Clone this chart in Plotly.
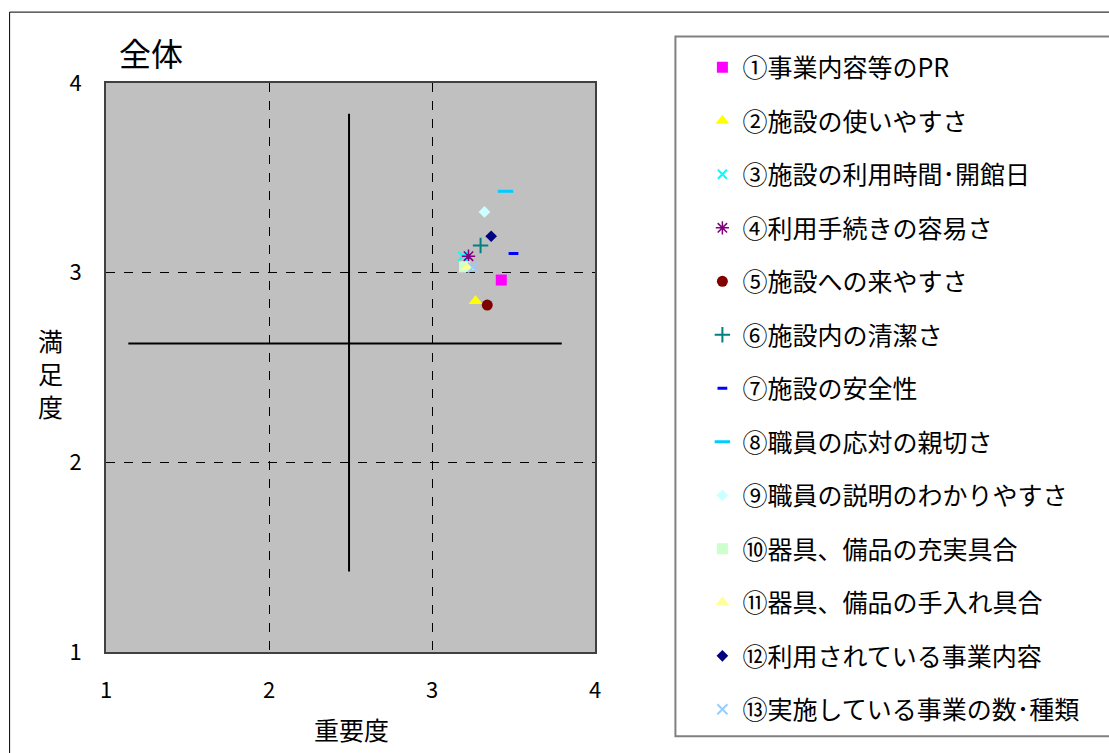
import plotly.graph_objects as go

# 項目ごとの重要度(x)・満足度(y)
labels = [
    "①事業内容等のPR",
    "②施設の使いやすさ",
    "③施設の利用時間･開館日",
    "④利用手続きの容易さ",
    "⑤施設への来やすさ",
    "⑥施設内の清潔さ",
    "⑦施設の安全性",
    "⑧職員の応対の親切さ",
    "⑨職員の説明のわかりやすさ",
    "⑩器具、備品の充実具合",
    "⑪器具、備品の手入れ具合",
    "⑫利用されている事業内容",
    "⑬実施している事業の数･種類",
]
importance = [3.425, 3.267, 3.189, 3.224, 3.339, 3.298, 3.500, 3.451, 3.322, 3.200, 3.220, 3.363, 3.251]
satisfaction = [2.961, 2.850, 3.087, 3.087, 2.829, 3.143, 3.101, 3.429, 3.320, 3.031, 3.031, 3.192, 3.028]

# 十字線(平均の目安)
cross_center_x = 2.491
cross_center_y = 2.627
cross_x_range = [1.137, 3.796]
cross_y_range = [1.425, 3.838]

axis_ticks = [1, 2, 3, 4]

# マーカー形状と色
symbols = ["square", "triangle-up", "x-thin", "asterisk", "circle", "cross-thin",
           "line-ew", "line-ew", "diamond", "square", "triangle-up", "diamond", "x-thin"]
colors = ["#FF00FF", "#FFFF00", "#00FFFF", "#800080", "#800000", "#008080",
          "#0000FF", "#00CCFF", "#CCFFFF", "#CCFFCC", "#FFFF99", "#000080", "#99CCFF"]
sizes = [11, 12, 9, 11, 11, 11, 7, 11, 9, 11, 12, 9, 10]
open_symbols = {"x-thin", "asterisk", "cross-thin", "line-ew"}

W, H = 1109, 753
L, R, T, B = 106, 595.5, 82.5, 652.5
FONT = "Noto Sans CJK JP"


def px_x(p):
    return (p - L) / (R - L)


def px_y(p):
    return (B - p) / (B - T)


fig = go.Figure()

# 十字線
fig.add_trace(go.Scatter(x=[cross_center_x, cross_center_x], y=cross_y_range, mode="lines",
                         line=dict(color="black", width=2), showlegend=False, hoverinfo="skip"))
fig.add_trace(go.Scatter(x=cross_x_range, y=[cross_center_y, cross_center_y], mode="lines",
                         line=dict(color="black", width=2), showlegend=False, hoverinfo="skip"))

for i, name in enumerate(labels):
    sym = symbols[i]
    if sym in open_symbols:
        lw = 3 if sym == "line-ew" else (1.5 if sym == "asterisk" else 2)
        marker = dict(symbol=sym, size=sizes[i], color=colors[i],
                      line=dict(color=colors[i], width=lw))
    else:
        marker = dict(symbol=sym, size=sizes[i], color=colors[i], line=dict(width=0))
    fig.add_trace(go.Scatter(x=[importance[i]], y=[satisfaction[i]], mode="markers",
                             name=name, marker=marker, legendgroup=f"g{i}"))

y_title_chars = ["満", "足", "度"]
y_title_pos = [340, 373, 406]

annotations = [
    dict(text="全体", xref="paper", yref="paper", x=px_x(117), y=px_y(51),
         xanchor="left", yanchor="middle", showarrow=False,
         font=dict(size=32, family=FONT)),
    dict(text="重要度", xref="paper", yref="paper", x=px_x(352), y=px_y(730),
         xanchor="center", yanchor="middle", showarrow=False,
         font=dict(size=25, family=FONT)),
]
for ch, py in zip(y_title_chars, y_title_pos):
    annotations.append(dict(text=ch, xref="paper", yref="paper", x=px_x(50), y=px_y(py),
                            xanchor="center", yanchor="middle", showarrow=False,
                            font=dict(size=25, family=FONT)))

fig.update_layout(
    width=W, height=H,
    margin=dict(l=L, r=W - R, t=T, b=H - B, pad=0),
    paper_bgcolor="white",
    plot_bgcolor="#C0C0C0",
    font=dict(family=FONT, color="black"),
    showlegend=True,
    legend=dict(
        x=px_x(703), y=px_y(44), xanchor="left", yanchor="top",
        bgcolor="rgba(0,0,0,0)", borderwidth=0,
        font=dict(family=FONT, size=25, color="black"),
        tracegroupgap=18, traceorder="grouped", maxheight=720,
    ),
    xaxis=dict(range=[1, 4], tickvals=axis_ticks, ticktext=[str(v) for v in axis_ticks],
               showgrid=True, gridcolor="black", griddash="dash", gridwidth=1,
               zeroline=False, showline=True, linecolor="#404040", linewidth=2, mirror=True,
               ticks="", tickfont=dict(size=22, family=FONT), ticklabelstandoff=18),
    yaxis=dict(range=[1, 4], tickvals=axis_ticks, ticktext=[str(v) for v in axis_ticks],
               showgrid=True, gridcolor="black", griddash="dash", gridwidth=1,
               zeroline=False, showline=True, linecolor="#404040", linewidth=2, mirror=True,
               ticks="", tickfont=dict(size=22, family=FONT), ticklabelstandoff=18),
    shapes=[
        # 外枠
        dict(type="rect", xref="paper", yref="paper",
             x0=px_x(9.5), x1=px_x(1120), y0=px_y(770), y1=px_y(11.5),
             line=dict(color="black", width=1), fillcolor="rgba(0,0,0,0)", layer="below"),
        # 凡例枠
        dict(type="rect", xref="paper", yref="paper",
             x0=px_x(676), x1=px_x(1120), y0=px_y(737), y1=px_y(36),
             line=dict(color="#808080", width=2), fillcolor="white", layer="below"),
    ],
    annotations=annotations,
)

fig.write_html("out.html")
